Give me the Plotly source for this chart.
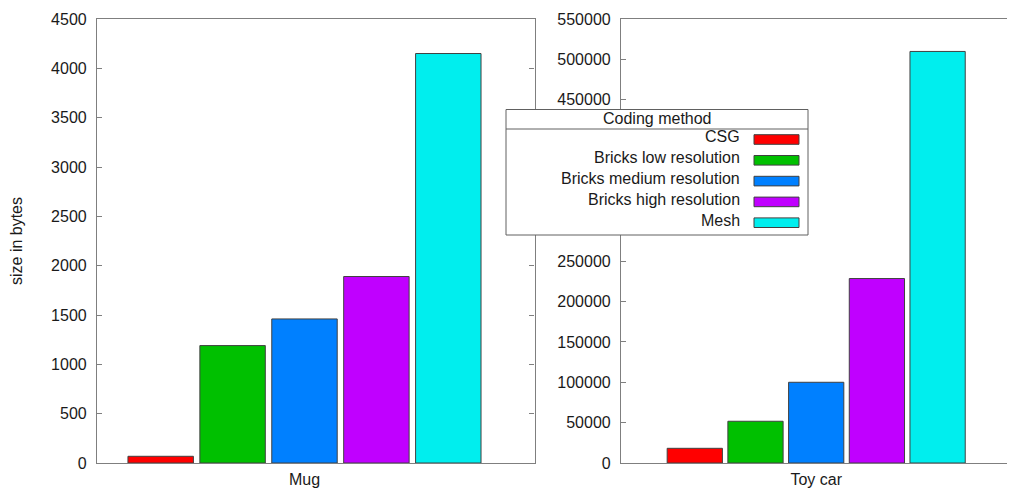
import plotly.graph_objects as go

# ---------------- data ----------------
methods = ["CSG", "Bricks low resolution", "Bricks medium resolution",
           "Bricks high resolution", "Mesh"]
colors = ["#ff0000", "#00c000", "#0080ff", "#c000ff", "#00eeee"]
objects = ["Mug", "Toy car"]
mug_sizes = [68, 1190, 1460, 1890, 4150]
toycar_sizes = [18200, 51700, 100000, 228500, 509800]
left_ticks = list(range(0, 4501, 500))
right_ticks = list(range(0, 550001, 50000))
legend_title = "Coding method"
y_title = "size in bytes"

# ---------------- geometry helpers ----------------
# the page body has an 8px margin, so the figure is shrunk and every
# reference pixel position is shifted by OFF
OFF = 8
W, H = 1015 - OFF, 489 - OFF
TOP, BOTTOM = 19, 463  # plot area in reference pixels


def px_x(x):
    return (x - OFF) / W


def px_y(y):
    return (BOTTOM - y) / (BOTTOM - TOP)


FONT = "Liberation Sans, Arial, sans-serif"
TXT = "#1a1a1a"
AX = "#7f7f7f"

# legend box (reference pixels)
bx0, bx1, by0, by1 = 506, 808, 109.5, 235

# right-axis labels that sit under the legend box are not visible in the reference
R_MAX = 550000
right_text = []
for v in right_ticks:
    ypix = BOTTOM - v / R_MAX * (BOTTOM - TOP)
    right_text.append("" if by0 - 4 < ypix < by1 + 4 else str(v))

fig = go.Figure()
for name, color, m, t in zip(methods, colors, mug_sizes, toycar_sizes):
    common = dict(name=name, legendgroup=name, showlegend=False,
                  marker=dict(color=color, line=dict(color="#404040", width=1)))
    fig.add_trace(go.Bar(x=[objects[0]], y=[m], xaxis="x", yaxis="y", **common))
    fig.add_trace(go.Bar(x=[objects[1]], y=[t], xaxis="x2", yaxis="y2", **common))

axis_common = dict(showline=True, linecolor=AX, linewidth=1.2, showgrid=False,
                   zeroline=False, tickfont=dict(size=16, color=TXT, family=FONT))

fig.update_layout(
    width=W, height=H,
    margin=dict(l=0, r=0, t=TOP - OFF, b=H - (BOTTOM - OFF)),
    paper_bgcolor="white", plot_bgcolor="white",
    font=dict(family=FONT, size=16, color=TXT),
    barmode="group", bargap=0.2, bargroupgap=0.09,
    showlegend=False,
    xaxis=dict(domain=[px_x(97), px_x(534.5)], range=[-0.4617, 0.5118],
               type="category", mirror=True, ticks="", anchor="y",
               ticklabelstandoff=2, **axis_common),
    yaxis=dict(domain=[0, 1], range=[0, 4500], tickvals=left_ticks,
               tickformat="d",
               ticks="inside", ticklen=5, tickcolor=AX, mirror="ticks",
               anchor="x", ticklabelstandoff=6,
               title=dict(text=y_title, font=dict(size=16, color=TXT), standoff=30),
               **axis_common),
    xaxis2=dict(domain=[px_x(621), 1], range=[-0.5145, 0.524],
                type="category", mirror=True, ticks="", anchor="y2",
                ticklabelstandoff=2, **axis_common),
    yaxis2=dict(domain=[0, 1], range=[0, R_MAX], tickvals=right_ticks,
                ticktext=right_text,
                ticks="inside", ticklen=5, tickcolor=AX, mirror=False,
                anchor="x2", ticklabelstandoff=6, **axis_common),
)

# ---------------- manual legend (gnuplot style) ----------------
shapes = []
annotations = []
shapes.append(dict(type="rect", xref="paper", yref="paper", layer="above",
                   x0=px_x(bx0), x1=px_x(bx1), y0=px_y(by1), y1=px_y(by0),
                   fillcolor="white", line=dict(color="#606060", width=1)))
shapes.append(dict(type="line", xref="paper", yref="paper", layer="above",
                   x0=px_x(bx0), x1=px_x(bx1), y0=px_y(129), y1=px_y(129),
                   line=dict(color="#606060", width=1)))
annotations.append(dict(text=legend_title, xref="paper", yref="paper",
                        x=px_x((bx0 + bx1) / 2), y=px_y(118), showarrow=False,
                        xanchor="center", yanchor="middle",
                        font=dict(size=16, color=TXT, family=FONT)))
for i, (name, color) in enumerate(zip(methods, colors)):
    yc = 137 + i * 20.8
    annotations.append(dict(text=name, xref="paper", yref="paper",
                            x=px_x(742), y=px_y(yc), showarrow=False,
                            xanchor="right", yanchor="middle",
                            font=dict(size=16, color=TXT, family=FONT)))
    shapes.append(dict(type="rect", xref="paper", yref="paper", layer="above",
                       x0=px_x(754), x1=px_x(799),
                       y0=px_y(yc + 2.5 + 4.8), y1=px_y(yc + 2.5 - 4.8),
                       fillcolor=color, line=dict(color="#404040", width=1)))

fig.update_layout(shapes=shapes, annotations=annotations)
fig.write_html("out.html")
